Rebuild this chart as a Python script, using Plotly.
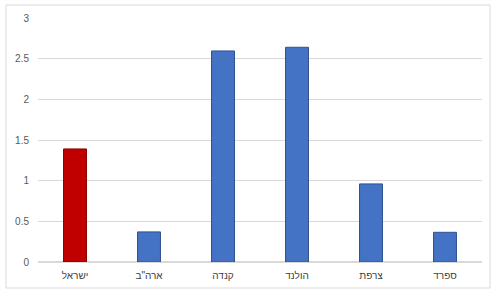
import plotly.graph_objects as go

countries = ["ישראל", "ארה\"ב", "קנדה", "הולנד", "צרפת", "ספרד"]
values = [1.39, 0.37, 2.595, 2.64, 0.96, 0.365]
bar_colors = ["#C00000", "#4472C4", "#4472C4", "#4472C4", "#4472C4", "#4472C4"]
line_colors = ["#8B0000", "#2F528F", "#2F528F", "#2F528F", "#2F528F", "#2F528F"]
y_ticks = [0, 0.5, 1, 1.5, 2, 2.5, 3]

fig = go.Figure(go.Bar(
    x=countries, y=values,
    marker=dict(color=bar_colors, line=dict(color=line_colors, width=1)),
    width=0.31,
))

fig.update_layout(
    width=500, height=295,
    margin=dict(l=38, r=18, t=18, b=33),
    paper_bgcolor="white", plot_bgcolor="white",
    font=dict(family="Liberation Sans, DejaVu Sans, sans-serif", size=10, color="#595959"),
    showlegend=False,
    xaxis=dict(showgrid=False, showline=False, ticks="", ticklabelstandoff=6,
               tickfont=dict(size=10, color="#404040")),
    yaxis=dict(range=[0, 3], tickvals=y_ticks, ticktext=[str(v) for v in y_ticks],
               showgrid=True, gridcolor="#D9D9D9", gridwidth=1, zeroline=True,
               zerolinecolor="#D9D9D9", ticks="", ticklabelstandoff=8,
               tickfont=dict(size=10, color="#595959")),
    shapes=[dict(type="rect", xref="paper", yref="paper",
                 x0=-32/444, x1=452/444, y0=-26/244, y1=257/244,
                 line=dict(color="#D9D9D9", width=1), fillcolor="rgba(0,0,0,0)", layer="below")],
)

fig.write_html("out.html")
